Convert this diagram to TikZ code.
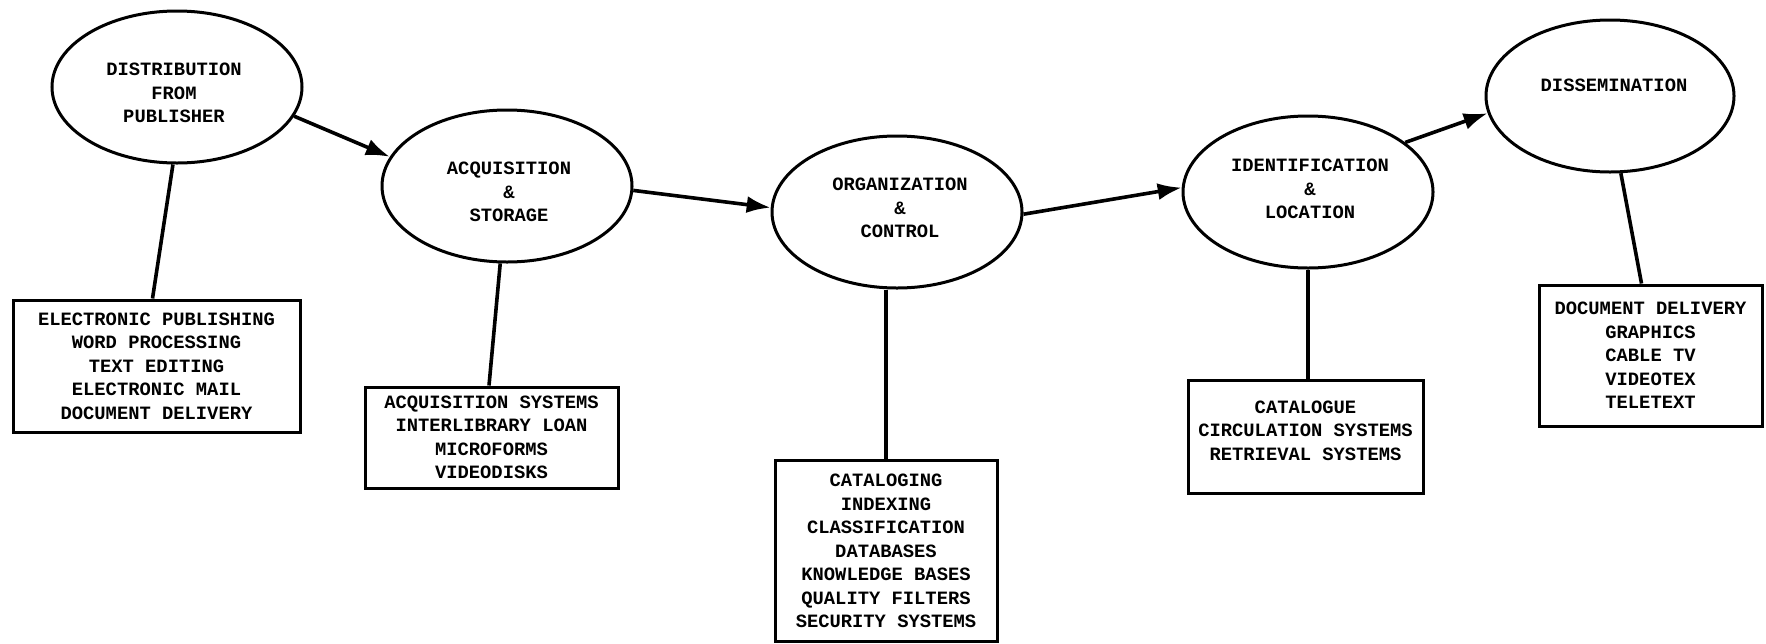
\documentclass[tikz,border=0pt]{standalone}
\usepackage{fontspec}
\setmonofont{Liberation Mono}
\usetikzlibrary{shapes.geometric,arrows.meta}

\tikzset{
	stage/.style={draw, ellipse, line width=1.5pt, minimum width=125pt, minimum height=76pt, inner sep=0pt},
	stagetext/.style={align=center, font=\ttfamily\bfseries\fontsize{9.4}{11.75}\selectfont},
	toolbox/.style={draw, rectangle, line width=1.5pt, inner sep=0pt, align=center, font=\ttfamily\bfseries\fontsize{9.4}{11.75}\selectfont},
	flow/.style={line width=1.8pt, -{Latex[length=12pt,width=8.5pt]}},
	link/.style={line width=1.8pt}}

\begin{document}
\begin{tikzpicture}[x=0.5pt,y=0.5pt,yscale=-1,xscale=1]
	\useasboundingbox (0,0) rectangle (1766,643);

	%Shape: Ellipse [stages]
	\node [stage] (e1) at (177,87) {};
	\node [stage] (e2) at (507,186) {};
	\node [stage] (e3) at (897,212) {};
	\node [stage] (e4) at (1308,192) {};
	\node [stage, minimum width=124pt] (e5) at (1610,96) {};

	% Text Node
	\node [stagetext] (t1) at (174,93) {DISTRIBUTION\\FROM\\PUBLISHER};
	% Text Node
	\node [stagetext] (t2) at (509,192) {ACQUISITION\\\&\\STORAGE};
	% Text Node
	\node [stagetext] (t3) at (900,208) {ORGANIZATION\\\&\\CONTROL};
	% Text Node
	\node [stagetext] (t4) at (1310,189) {IDENTIFICATION\\\&\\LOCATION};
	% Text Node
	\node [stagetext] (t5) at (1614,85) {DISSEMINATION};

	%Shape: Rectangle [tools]
	\node [toolbox, minimum width=143.5pt, minimum height=66pt] (b1) at (156.5,366) {ELECTRONIC PUBLISHING\\WORD PROCESSING\\TEXT EDITING\\ELECTRONIC MAIL\\DOCUMENT DELIVERY};
	\node [toolbox, minimum width=126.5pt, minimum height=50.5pt] (b2) at (491.5,437.5) {ACQUISITION SYSTEMS\\INTERLIBRARY LOAN\\MICROFORMS\\VIDEODISKS};
	\node [toolbox, minimum width=111pt, minimum height=90.5pt] (b3) at (886,551) {CATALOGING\\INDEXING\\CLASSIFICATION\\DATABASES\\KNOWLEDGE BASES\\QUALITY FILTERS\\SECURITY SYSTEMS};
	\node [toolbox, minimum width=117.5pt, minimum height=56.5pt, text depth=6pt] (b4) at (1305.5,436.5) {CATALOGUE\\CIRCULATION SYSTEMS\\RETRIEVAL SYSTEMS};
	\node [toolbox, minimum width=111.5pt, minimum height=70.5pt] (b5) at (1650.5,355.5) {DOCUMENT DELIVERY\\GRAPHICS\\CABLE TV\\VIDEOTEX\\TELETEXT};

	%Straight Lines [flow]
	\draw [flow] (e1.-14) -- (e2.166);
	\draw [flow] (e2.-2) -- (e3.178);
	\draw [flow] (e3.-1) -- (e4.178);
	\draw [flow] (e4.27) -- (e5.188);

	%Straight Lines [links]
	\draw [link] (e1.267) -- ([xshift=-2pt]b1.north);
	\draw [link] (e2.265) -- ([xshift=-1.25pt]b2.north);
	\draw [link] (e3.south -| b3.north) -- (b3.north);
	\draw [link] (e4.south) -- (e4.south |- b4.north);
	\draw [link] (e5.278) -- ([xshift=-4.5pt]b5.north);

\end{tikzpicture}
\end{document}
